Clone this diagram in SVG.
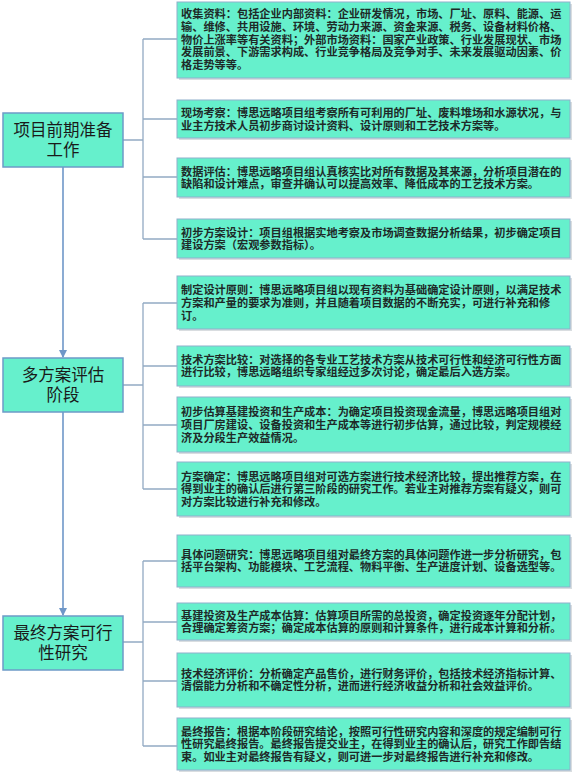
<svg xmlns="http://www.w3.org/2000/svg" width="576" height="779" viewBox="0 0 576 779">
<defs>
<style>
.bg{fill:#ffffff}
.box{fill:#66F0CC;stroke:#8FB0CC;stroke-width:1}
.sh{fill:#d9dde0}
.node{fill:#66F0CC;stroke:#6E9BC8;stroke-width:1.5}
.t{font-family:"Liberation Sans","Noto Sans CJK SC","Noto Sans CJK TC",sans-serif;font-size:11.2px;font-weight:700;fill:#1e2a28;dominant-baseline:central}
.nt{font-family:"Liberation Sans","Noto Sans CJK SC","Noto Sans CJK TC",sans-serif;font-size:16.5px;fill:#1a1a1a;text-anchor:middle;dominant-baseline:central}
.ln{fill:none;stroke:#93AAC3;stroke-width:1.3}
.ar{fill:none;stroke:#6F97C8;stroke-width:1.6}
</style>
<marker id="arr" markerWidth="8" markerHeight="8" refX="7" refY="4" orient="auto" markerUnits="userSpaceOnUse">
<path d="M0,0 L8,4 L0,8 Z" fill="#6F97C8"/>
</marker>
</defs>
<rect class="bg" x="0" y="0" width="576" height="779"/>

<g id="connectors">
<path class="ar" d="M63,167 V357" marker-end="url(#arr)"/>
<path class="ar" d="M63,412 V615" marker-end="url(#arr)"/>
<path class="ln" d="M123,140 H143 M143,39 V239 M143,39 H177 M143,119 H177 M143,177 H177 M143,239 H177"/>
<path class="ln" d="M123,385 H143 M143,303 V489 M143,303 H177 M143,366 H177 M143,425 H177 M143,489 H177"/>
<path class="ln" d="M123,642 H143 M143,561 V746 M143,561 H177 M143,622 H177 M143,681 H177 M143,746 H177"/>
</g>

<g id="n1"><rect class="node" x="3" y="113" width="120" height="54"/>
<text class="nt" x="63" y="130">项目前期准备<tspan x="63" dy="20">工作</tspan></text></g>
<g id="n2"><rect class="node" x="3" y="358" width="120" height="54"/>
<text class="nt" x="63" y="375">多方案评估<tspan x="63" dy="20">阶段</tspan></text></g>
<g id="n3"><rect class="node" x="3" y="616" width="120" height="54"/>
<text class="nt" x="63" y="633">最终方案可行<tspan x="63" dy="20">性研究</tspan></text></g>

<g id="b1"><rect class="sh" x="179" y="4" width="393" height="76"/><rect class="box" x="177" y="2" width="393" height="76"/>
<text class="t" x="181" y="14">收集资料：包括企业内部资料：企业研发情况，市场、厂址、原料、能源、运<tspan x="181" dy="12.75">输、维修、共用设施、环境、劳动力来源、资金来源、税务、设备材料价格、</tspan><tspan x="181" dy="12.75">物价上涨率等有关资料；外部市场资料：国家产业政策、行业发展现状、市场</tspan><tspan x="181" dy="12.75">发展前景、下游需求构成、行业竞争格局及竞争对手、未来发展驱动因素、价</tspan><tspan x="181" dy="12.75">格走势等等。</tspan></text></g>

<g id="b2"><rect class="sh" x="179" y="102" width="393" height="38"/><rect class="box" x="177" y="100" width="393" height="38"/>
<text class="t" x="181" y="113">现场考察：博思远略项目组考察所有可利用的厂址、废料堆场和水源状况，与<tspan x="181" dy="12.75">业主方技术人员初步商讨设计资料、设计原则和工艺技术方案等。</tspan></text></g>

<g id="b3"><rect class="sh" x="179" y="160" width="393" height="39"/><rect class="box" x="177" y="158" width="393" height="39"/>
<text class="t" x="181" y="171.5">数据评估：博思远略项目组认真核实比对所有数据及其来源，分析项目潜在的<tspan x="181" dy="12.75">缺陷和设计难点，审查并确认可以提高效率、降低成本的工艺技术方案。</tspan></text></g>

<g id="b4"><rect class="sh" x="179" y="221" width="393" height="39"/><rect class="box" x="177" y="219" width="393" height="39"/>
<text class="t" x="181" y="232.5">初步方案设计：项目组根据实地考察及市场调查数据分析结果，初步确定项目<tspan x="181" dy="12.75">建设方案（宏观参数指标）。</tspan></text></g>

<g id="b5"><rect class="sh" x="179" y="278" width="393" height="53"/><rect class="box" x="177" y="276" width="393" height="53"/>
<text class="t" x="181" y="290">制定设计原则：博思远略项目组以现有资料为基础确定设计原则，以满足技术<tspan x="181" dy="12.75">方案和产量的要求为准则，并且随着项目数据的不断充实，可进行补充和修</tspan><tspan x="181" dy="12.75">订。</tspan></text></g>

<g id="b6"><rect class="sh" x="179" y="348" width="393" height="40"/><rect class="box" x="177" y="346" width="393" height="40"/>
<text class="t" x="181" y="359.5">技术方案比较：对选择的各专业工艺技术方案从技术可行性和经济可行性方面<tspan x="181" dy="12.75">进行比较，博思远略组织专家组经过多次讨论，确定最后入选方案。</tspan></text></g>

<g id="b7"><rect class="sh" x="179" y="399" width="393" height="55"/><rect class="box" x="177" y="397" width="393" height="55"/>
<text class="t" x="181" y="412">初步估算基建投资和生产成本：为确定项目投资现金流量，博思远略项目组对<tspan x="181" dy="12.75">项目厂房建设、设备投资和生产成本等进行初步估算，通过比较，判定规模经</tspan><tspan x="181" dy="12.75">济及分段生产效益情况。</tspan></text></g>

<g id="b8"><rect class="sh" x="179" y="464" width="393" height="54"/><rect class="box" x="177" y="462" width="393" height="54"/>
<text class="t" x="181" y="476.5">方案确定：博思远略项目组对可选方案进行技术经济比较，提出推荐方案，在<tspan x="181" dy="12.75">得到业主的确认后进行第三阶段的研究工作。若业主对推荐方案有疑义，则可</tspan><tspan x="181" dy="12.75">对方案比较进行补充和修改。</tspan></text></g>

<g id="b9"><rect class="sh" x="179" y="537" width="393" height="52"/><rect class="box" x="177" y="535" width="393" height="52"/>
<text class="t" x="181" y="554.5">具体问题研究：博思远略项目组对最终方案的具体问题作进一步分析研究，包<tspan x="181" dy="12.75">括平台架构、功能模块、工艺流程、物料平衡、生产进度计划、设备选型等。</tspan></text></g>

<g id="b10"><rect class="sh" x="179" y="605" width="393" height="37"/><rect class="box" x="177" y="603" width="393" height="37"/>
<text class="t" x="181" y="615.5">基建投资及生产成本估算：估算项目所需的总投资，确定投资逐年分配计划，<tspan x="181" dy="12.75">合理确定筹资方案；确定成本估算的原则和计算条件，进行成本计算和分析。</tspan></text></g>

<g id="b11"><rect class="sh" x="179" y="655" width="393" height="54"/><rect class="box" x="177" y="653" width="393" height="54"/>
<text class="t" x="181" y="673.5">技术经济评价：分析确定产品售价，进行财务评价，包括技术经济指标计算、<tspan x="181" dy="12.75">清偿能力分析和不确定性分析，进而进行经济收益分析和社会效益评价。</tspan></text></g>

<g id="b12"><rect class="sh" x="179" y="720" width="393" height="52"/><rect class="box" x="177" y="718" width="393" height="52"/>
<text class="t" x="181" y="731.5">最终报告：根据本阶段研究结论，按照可行性研究内容和深度的规定编制可行<tspan x="181" dy="12.75">性研究最终报告。最终报告提交业主，在得到业主的确认后，研究工作即告结</tspan><tspan x="181" dy="12.75">束。如业主对最终报告有疑义，则可进一步对最终报告进行补充和修改。</tspan></text></g>
</svg>
